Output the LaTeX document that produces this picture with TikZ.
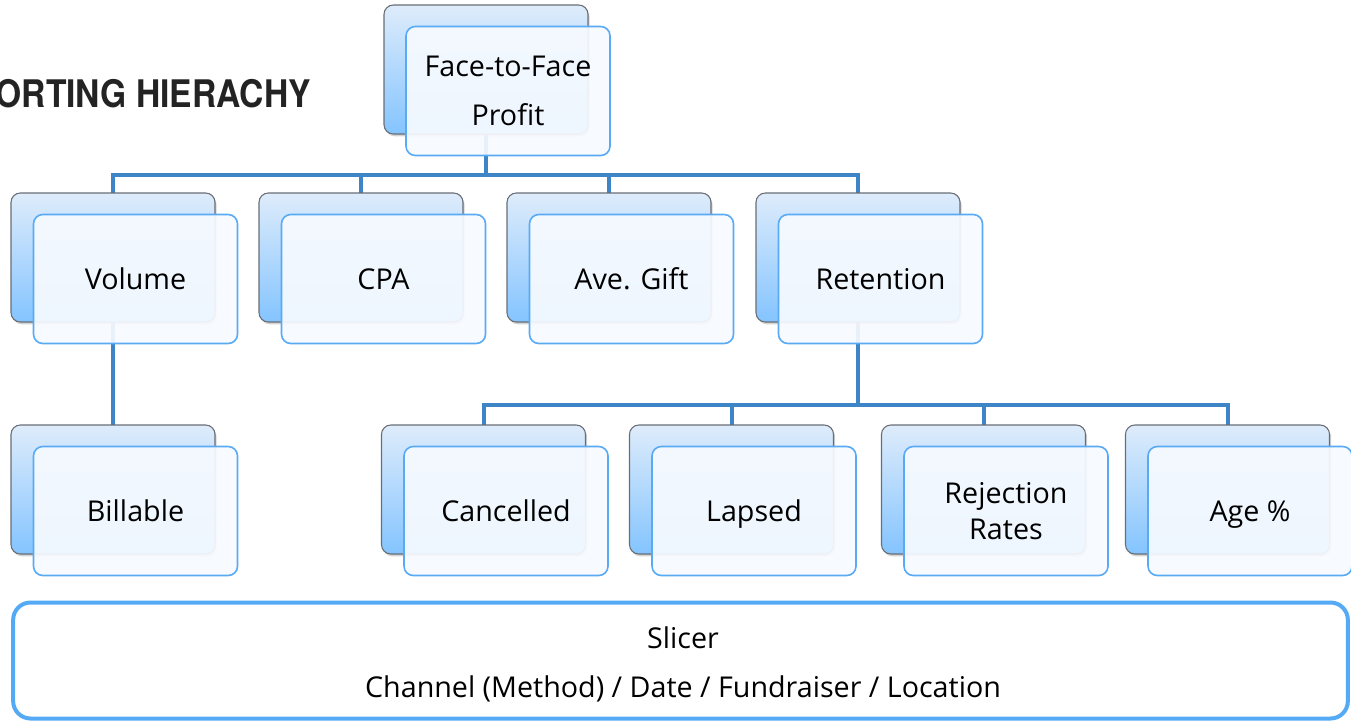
\documentclass[tikz,border=0pt]{standalone}
\usepackage{fontspec}
\setmainfont{Open Sans}
\newfontfamily\titlefont{TeX Gyre Heros}
\usetikzlibrary{calc,shadows}
\definecolor{conncol}{RGB}{61,133,198}
\definecolor{frontedge}{RGB}{88,170,245}
\definecolor{backedge}{RGB}{105,110,118}
\definecolor{backtop}{RGB}{222,236,251}
\definecolor{backbot}{RGB}{132,196,255}
\definecolor{frontfill}{RGB}{246,250,255}
\definecolor{slicercol}{RGB}{85,170,245}
\definecolor{titlecol}{RGB}{35,35,35}
\tikzset{
  backbox/.style={draw=backedge, line width=0.8pt, rounded corners=7pt,
    top color=backtop, bottom color=backbot,
    minimum width=153pt, minimum height=96.75pt, inner sep=0pt,
    drop shadow={shadow xshift=1.2pt, shadow yshift=-1.8pt, opacity=0.35}},
  frontbox/.style={draw=frontedge, line width=1.2pt, rounded corners=7pt,
    fill=frontfill, fill opacity=0.93, text opacity=1,
    minimum width=153pt, minimum height=96.75pt, inner sep=0pt,
    align=center, font=\fontsize{21.5}{27}\selectfont},
  oneline/.style={text height=16.3pt, text depth=0pt},
  conn/.style={draw=conncol, line width=3pt},
  slicerbox/.style={draw=slicercol, line width=3pt, rounded corners=13pt,
    fill=white, minimum width=1001pt, minimum height=87pt, inner sep=0pt},
  slicertext/.style={align=center, font=\fontsize{21.5}{36.75}\selectfont, yshift=-3pt, xshift=1.9pt},
  titletext/.style={text=titlecol, font=\titlefont\bfseries\fontsize{28.5}{34}\selectfont}
}
\begin{document}
\begin{tikzpicture}[x=0.75pt, y=-0.75pt]
\useasboundingbox (0,0) rectangle (1351,722);
% title (clipped at left edge, as in the reference)
\node[titletext, anchor=base east, inner sep=0pt] (title) at (311,107) {\scalebox{0.885}[1]{ORTING HIERACHY}};
% coordinates of buses
\coordinate (bus1) at (486,175);
\coordinate (bus2) at (858,405);
% back boxes positions
\path (486,69.5) coordinate (ptop)
      (113,257.5) coordinate (pvol)
      (361,257.5) coordinate (pcpa)
      (609,257.5) coordinate (pave)
      (858,257.5) coordinate (pret)
      (113,489.5) coordinate (pbil)
      (483.5,489.5) coordinate (pcan)
      (731.5,489.5) coordinate (plap)
      (983.5,489.5) coordinate (prej)
      (1227.5,489.5) coordinate (page);
% connectors
\draw[conn] (ptop) -- (bus1);
\draw[conn] (bus1) -| (pvol);
\draw[conn] (bus1) -| (pcpa);
\draw[conn] (bus1) -| (pave);
\draw[conn] (bus1) -| (pret);
\draw[conn] (pvol) -- (pbil);
\draw[conn] (pret) -- (bus2);
\draw[conn] (bus2) -| (pcan);
\draw[conn] (bus2) -| (plap);
\draw[conn] (bus2) -| (prej);
\draw[conn] (bus2) -| (page);
% back boxes
\foreach \n in {top,vol,cpa,ave,ret,bil,can,lap,rej,age}
  \node[backbox] (\n b) at (p\n) {};
% front boxes
\node[frontbox, font=\fontsize{21.5}{36.75}\selectfont] (topf) at ($(topb)+(22,21.5)$) {Face-to-Face\\Profit};
\node[frontbox, oneline] (volf) at ($(volb)+(22.5,21.5)$) {Volume};
\node[frontbox, oneline] (cpaf) at ($(cpab)+(22.5,21.5)$) {CPA};
\node[frontbox, oneline] (avef) at ($(aveb)+(22.5,21.5)$) {Ave. Gift};
\node[frontbox, oneline] (retf) at ($(retb)+(22.5,21.5)$) {Retention};
\node[frontbox, oneline] (bilf) at ($(bilb)+(22.5,21.5)$) {Billable};
\node[frontbox, oneline] (canf) at ($(canb)+(22.5,21.5)$) {Cancelled};
\node[frontbox, oneline] (lapf) at ($(lapb)+(22.5,21.5)$) {Lapsed};
\node[frontbox] (rejf) at ($(rejb)+(22.5,21.5)$) {Rejection\\Rates};
\node[frontbox, oneline] (agef) at ($(ageb)+(22.5,21.5)$) {Age \%};
% slicer
\node[slicerbox, label={[slicertext]center:{Slicer\\Channel (Method) / Date / Fundraiser / Location}}] (slicer) at (680.5,660.5) {};
\end{tikzpicture}
\end{document}
